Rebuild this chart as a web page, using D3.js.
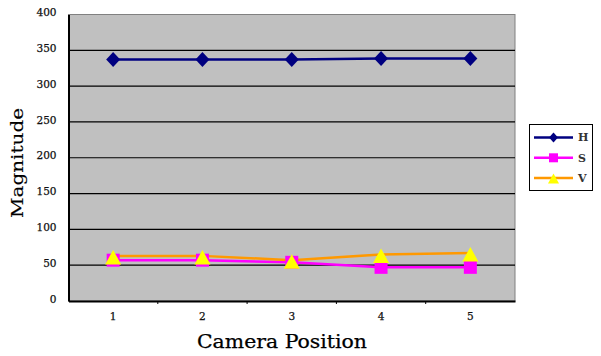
<!DOCTYPE html>
<html><head><meta charset="utf-8">
<script src="https://cdn.jsdelivr.net/npm/d3@7"></script>
<style>body{margin:0;background:#fff}svg{display:block}</style>
</head><body>
<script>
const categories = ["1","2","3","4","5"];
const seriesH = [337, 337, 337, 338.5, 338.5];
const seriesS = [57, 57, 54, 47, 47];
const seriesV = [63, 63, 57, 65, 67];
const yTicks = [0,50,100,150,200,250,300,350,400];
const seriesNames = ["H","S","V"];

const W = 601, H = 356;
const m = {l:68.5, r:86, t:14.5, b:55};
const svg = d3.select("body").append("svg").attr("width",W).attr("height",H);
const x = d3.scaleBand().domain(categories).range([m.l, W-m.r]);
const y = d3.scaleLinear().domain([0,400]).range([H-m.b, m.t]);
const serif = "'DejaVu Serif',serif";

svg.append("rect").attr("x",m.l).attr("y",m.t).attr("width",W-m.r-m.l).attr("height",H-m.b-m.t)
  .attr("fill","#c0c0c0").attr("stroke","#808080").attr("stroke-width",1);

svg.append("g").selectAll("line").data(yTicks.filter(d=>d>0 && d<400)).join("line")
  .attr("x1",m.l).attr("x2",W-m.r).attr("y1",d=>y(d)).attr("y2",d=>y(d))
  .attr("stroke","#000").attr("stroke-width",1.2);

// axes
const yAxis = d3.axisLeft(y).tickValues(yTicks).tickSize(0).tickPadding(12);
const gy = svg.append("g").attr("transform",`translate(${m.l},0)`).call(yAxis);
gy.select(".domain").attr("stroke","#000").attr("stroke-width",2);
gy.selectAll("text").attr("font-family",serif).attr("font-size",10.5).attr("fill","#111")
  .attr("stroke","#111").attr("stroke-width",0.25).attr("dy","0.1em");

const xAxis = d3.axisBottom(x).tickSize(0).tickPadding(12);
const gx = svg.append("g").attr("transform",`translate(0,${H-m.b})`).call(xAxis);
gx.select(".domain").attr("stroke","#000").attr("stroke-width",2);
gx.selectAll("text").attr("font-family",serif).attr("font-size",10.5).attr("fill","#111")
  .attr("stroke","#111").attr("stroke-width",0.25);
// category boundary ticks
gx.append("g").selectAll("line").data(categories.slice(1)).join("line")
  .attr("x1",d=>x(d)).attr("x2",d=>x(d)).attr("y1",0).attr("y2",3).attr("stroke","#000").attr("stroke-width",1);

const cx = d => x(d)+x.bandwidth()/2;
const line = d3.line().x((d,i)=>cx(categories[i])).y(d=>y(d));

function diamondPath(w,h){ return `M0,${-h/2}L${w/2},0L0,${h/2}L${-w/2},0Z`; }
function squarePath(s){ return `M${-s/2},${-s/2}h${s}v${s}h${-s}Z`; }
function triPath(w,top,bot){ return `M0,${-top}L${w/2},${bot}L${-w/2},${bot}Z`; }

function drawSeries(vals, lineColor, sw){
  svg.append("path").datum(vals).attr("d",line).attr("fill","none").attr("stroke",lineColor).attr("stroke-width",sw);
}
drawSeries(seriesS,"#ff00ff",2.5);
drawSeries(seriesV,"#ff9900",2.5);
drawSeries(seriesH,"#000080",2.5);

function drawMarks(vals,color,p){
  svg.append("g").selectAll("path").data(vals).join("path")
    .attr("d",p).attr("fill",color)
    .attr("transform",(d,i)=>`translate(${cx(categories[i])},${y(d)})`);
}
drawMarks(seriesH,"#000080",diamondPath(14,15));
drawMarks(seriesS,"#ff00ff",squarePath(13));
drawMarks(seriesV,"#ffff00",triPath(16,6,8.5));

// titles
svg.append("text").attr("transform",`translate(23,163) rotate(-90)`)
  .attr("text-anchor","middle").attr("font-family",serif).attr("font-size",17)
  .attr("stroke","#000").attr("stroke-width",0.15)
  .attr("textLength",110).attr("lengthAdjust","spacingAndGlyphs").text("Magnitude");
svg.append("text").attr("x",282).attr("y",348)
  .attr("text-anchor","middle").attr("font-family",serif).attr("font-size",18)
  .attr("stroke","#000").attr("stroke-width",0.25)
  .attr("textLength",170).attr("lengthAdjust","spacingAndGlyphs").text("Camera Position");

// legend
const lg = svg.append("g");
lg.append("rect").attr("x",529.5).attr("y",124.5).attr("width",63).attr("height",66)
  .attr("fill","#fff").attr("stroke","#000").attr("stroke-width",1);
const legCols = [["#000080","#000080"],["#ff00ff","#ff00ff"],["#ff9900","#ffff00"]];
const legSyms = [diamondPath(9,10), squarePath(9), triPath(11,4.5,5.5)];
seriesNames.forEach((n,i)=>{
  const yy = 137.5 + i*20.3;
  lg.append("line").attr("x1",534).attr("x2",573).attr("y1",yy).attr("y2",yy).attr("stroke",legCols[i][0]).attr("stroke-width",2.5);
  lg.append("path").attr("d",legSyms[i]).attr("fill",legCols[i][1]).attr("transform",`translate(553.5,${yy})`);
  lg.append("text").attr("x",578).attr("y",yy).attr("dy","0.35em").attr("font-family",serif).attr("font-size",11).attr("font-weight","bold").attr("fill","#333").text(n);
});
</script>
</body></html>
